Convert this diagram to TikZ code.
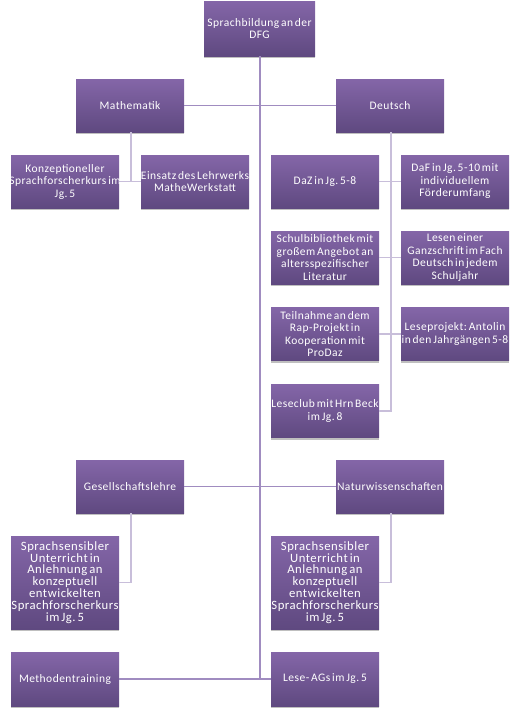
\documentclass[tikz,border=0pt]{standalone}
\usepackage{fontspec}
\setmainfont[LetterSpace=4,WordSpace=0.6]{Carlito}
\usetikzlibrary{shadows}
\frenchspacing
\definecolor{boxtop}{RGB}{132,102,168}
\definecolor{boxbot}{RGB}{95,73,128}
\definecolor{mainline}{RGB}{160,140,192}
\definecolor{subline}{RGB}{200,190,218}
\newcommand\cl[1]{\makebox[0pt]{#1}}
\tikzset{
  sbox/.style={rectangle, top color=boxtop, bottom color=boxbot, draw=none,
    minimum width=108pt, minimum height=53pt, align=center,
    inner sep=0pt, text=white, font=\fontsize{11.5}{12.5}\selectfont,
    drop shadow={shadow xshift=0pt, shadow yshift=-2pt, opacity=0.25, fill=black}},
  tallbox/.style={sbox, minimum height=93pt, font=\fontsize{12.7}{11.9}\selectfont},
  mline/.style={draw=mainline, line width=1.6pt},
  cline/.style={draw=subline, line width=1.6pt}
}
\begin{document}
\begin{tikzpicture}[x=1pt,y=-1pt]
\useasboundingbox (0,0) rectangle (523,716);
% nodes
\node[sbox, minimum width=111pt, minimum height=55pt] (top) at (259.5,28.5) {\cl{Sprachbildung an der}\\\cl{DFG}};
\node[sbox] (math) at (130,105.5) {\cl{Mathematik}};
\node[sbox] (deu) at (390,105.5) {\cl{Deutsch}};
\node[sbox] (konz) at (65,181.5) {\cl{Konzeptioneller}\\\cl{Sprachforscherkurs im}\\\cl{Jg. 5}};
\node[sbox] (eins) at (195,181.5) {\cl{Einsatz des Lehrwerks}\\\cl{MatheWerkstatt}};
\node[sbox] (daz) at (325,181.5) {\cl{DaZ in Jg. 5-8}};
\node[sbox] (daf) at (455,181.5) {\cl{DaF in Jg. 5-10 mit}\\\cl{individuellem}\\\cl{Förderumfang}};
\node[sbox] (schul) at (325,257.5) {\cl{Schulbibliothek mit}\\\cl{großem Angebot an}\\\cl{altersspezifischer}\\\cl{Literatur}};
\node[sbox] (lesen) at (455,257.5) {\cl{Lesen einer}\\\cl{Ganzschrift im Fach}\\\cl{Deutsch in jedem}\\\cl{Schuljahr}};
\node[sbox] (teil) at (325,334) {\cl{Teilnahme an dem}\\\cl{Rap-Projekt in}\\\cl{Kooperation mit}\\\cl{ProDaz}};
\node[sbox] (lprj) at (455,334) {\cl{Leseprojekt: Antolin}\\\cl{in den Jahrgängen 5-8}};
\node[sbox] (club) at (325,411) {\cl{Leseclub mit Hrn Beck}\\\cl{im Jg. 8}};
\node[sbox] (gesell) at (130,486.5) {\cl{Gesellschaftslehre}};
\node[sbox] (natur) at (390,486.5) {\cl{Naturwissenschaften}};
\node[tallbox] (spr1) at (65,582.5) {\cl{Sprachsensibler}\\\cl{Unterricht in}\\\cl{Anlehnung an}\\\cl{konzeptuell}\\\cl{entwickelten}\\\cl{Sprachforscherkurs}\\\cl{im Jg. 5}};
\node[tallbox] (spr2) at (325,582.5) {\cl{Sprachsensibler}\\\cl{Unterricht in}\\\cl{Anlehnung an}\\\cl{konzeptuell}\\\cl{entwickelten}\\\cl{Sprachforscherkurs}\\\cl{im Jg. 5}};
\node[sbox, minimum height=54pt] (meth) at (65,679) {\cl{Methodentraining}};
\node[sbox, minimum height=54pt] (lag) at (325,679) {\cl{Lese- AGs im Jg. 5}};
\coordinate (mainend) at (260,679);
% main connectors
\draw[mline] (top.south -| mainend) -- (mainend);
\draw[mline] (math.east) -- (math.east -| mainend);
\draw[mline] (deu.west) -- (deu.west -| mainend);
\draw[mline] (gesell.east) -- (gesell.east -| mainend);
\draw[mline] (natur.west) -- (natur.west -| mainend);
\draw[mline] (meth.east) -- (meth.east -| mainend);
\draw[mline] (lag.west) -- (lag.west -| mainend);
% sub connectors
\draw[cline] ([xshift=1pt]math.south) -- ([xshift=1pt]math.south |- konz.east);
\draw[cline] (konz.east) -- (eins.west);
\draw[cline] ([xshift=1pt]deu.south) -- ([xshift=1pt]deu.south |- club.east) -- (club.east);
\draw[cline] (daz.east) -- (daf.west);
\draw[cline] (schul.east) -- (lesen.west);
\draw[cline] (teil.east) -- (lprj.west);
\draw[cline] ([xshift=1pt]gesell.south) |- (spr1.east);
\draw[cline] ([xshift=1pt]natur.south) |- (spr2.east);
\end{tikzpicture}
\end{document}
